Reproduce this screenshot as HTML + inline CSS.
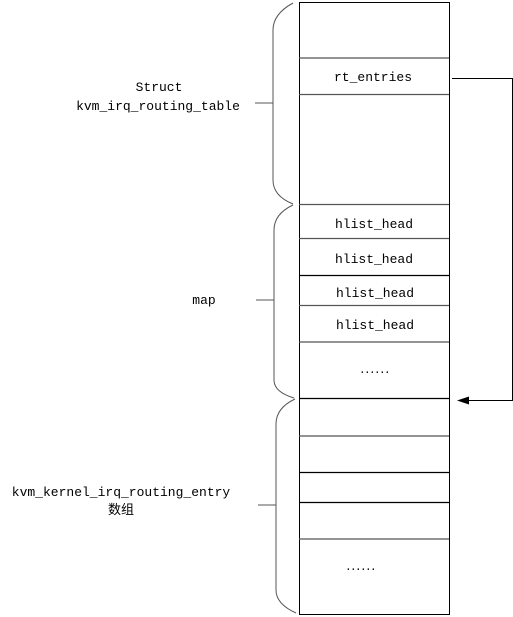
<!DOCTYPE html>
<html><head><style>html,body{margin:0;padding:0;background:#fff;}svg{display:block;}</style></head>
<body>
<svg width="513" height="617" xmlns="http://www.w3.org/2000/svg" font-family="Liberation Mono, Noto Sans CJK SC, monospace" font-size="13">
<rect x="299.5" y="2.5" width="150" height="612" fill="#fff" stroke="#000" stroke-width="1"/>
<g stroke="#555" stroke-width="1.2">
<line x1="299" y1="58" x2="449" y2="58"/>
<line x1="299" y1="94.5" x2="449" y2="94.5"/>
<line x1="299" y1="204.5" x2="449" y2="204.5"/>
<line x1="299" y1="238.5" x2="449" y2="238.5"/>
<line x1="299" y1="275.5" x2="449" y2="275.5" stroke="#000"/>
<line x1="299" y1="305.5" x2="449" y2="305.5"/>
<line x1="299" y1="342" x2="449" y2="342"/>
<line x1="299" y1="398.5" x2="449" y2="398.5" stroke="#000"/>
<line x1="299" y1="436" x2="449" y2="436"/>
<line x1="299" y1="472.5" x2="449" y2="472.5" stroke="#000"/>
<line x1="299" y1="502.5" x2="449" y2="502.5" stroke="#000"/>
<line x1="299" y1="539" x2="449" y2="539"/>
</g>
<g text-anchor="middle" fill="#000">
<text x="373" y="81">rt_entries</text>
<text x="374" y="228">hlist_head</text>
<text x="374" y="263">hlist_head</text>
<text x="375" y="297">hlist_head</text>
<text x="375" y="329">hlist_head</text>
<text x="159" y="91">Struct</text>
<text x="158" y="110">kvm_irq_routing_table</text>
<text x="204" y="304">map</text>
<text x="121" y="496">kvm_kernel_irq_routing_entry</text>
<text x="121" y="514">数组</text>
</g>
<g fill="#000">
<text x="359" y="373" font-size="11" letter-spacing="-1.6">......</text>
<text x="345" y="570" font-size="11" letter-spacing="-1.6">......</text>
</g>
<g fill="none" stroke="#555" stroke-width="1">
<path d="M293 3 Q273 14 273 30 L273 180 Q273 196 293 204"/>
<line x1="255" y1="103" x2="273" y2="103"/>
<path d="M293 205 Q274 214 274 230 L274 380 Q274 392 294 398"/>
<line x1="256" y1="300" x2="274" y2="300"/>
<path d="M295 399 Q276 408 276 424 L276 590 Q276 604 296 613"/>
<line x1="258" y1="505" x2="276" y2="505"/>
</g>
<path d="M452 78.5 L512.5 78.5 L512.5 400.5 L468 400.5" fill="none" stroke="#000" stroke-width="1"/>
<polygon points="457,400.5 469,396.5 469,404.5" fill="#000"/>
</svg>
</body></html>
